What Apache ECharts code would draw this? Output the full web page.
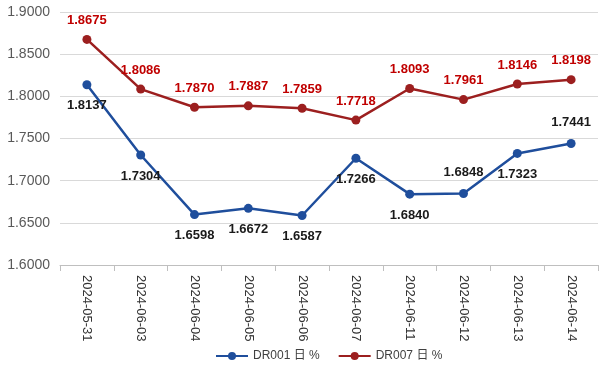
<!DOCTYPE html>
<html><head><meta charset="utf-8">
<script src="https://cdn.jsdelivr.net/npm/echarts@6/dist/echarts.min.js"></script>
<style>html,body{margin:0;padding:0;background:#fff}#c{width:608px;height:373px}</style>
</head><body><div id="c"></div>
<script>
const categories = ['2024-05-31','2024-06-03','2024-06-04','2024-06-05','2024-06-06','2024-06-07','2024-06-11','2024-06-12','2024-06-13','2024-06-14'];
const dr001 = [1.8137,1.7304,1.6598,1.6672,1.6587,1.7266,1.6840,1.6848,1.7323,1.7441];
const dr007 = [1.8675,1.8086,1.7870,1.7887,1.7859,1.7718,1.8093,1.7961,1.8146,1.8198];
const seriesNames = ['DR001 日 %','DR007 日 %'];
const dr001LabelPos = ['bottom','bottom','bottom','bottom','bottom','bottom','bottom','top','bottom','top'];

const font = '"Liberation Sans", "Noto Sans CJK SC", sans-serif';
const chart = echarts.init(document.getElementById('c'), null, {renderer:'canvas'});
chart.setOption({
  animation:false,
  textStyle:{fontFamily:font},
  grid:{left:60,right:10,top:12,bottom:108},
  legend:{bottom:6,left:210,itemWidth:32,itemHeight:10,itemGap:18,
    textStyle:{fontSize:12,color:'#404040',fontFamily:font},
    data:seriesNames},
  xAxis:{type:'category',data:categories,boundaryGap:true,
    axisLine:{lineStyle:{color:'#bfbfbf'}},
    axisTick:{show:true,length:6,lineStyle:{color:'#bfbfbf'}},
    axisLabel:{rotate:-90,fontSize:13,color:'#333333',margin:10,fontFamily:font}},
  yAxis:{type:'value',min:1.6,max:1.9,interval:0.05,
    axisLine:{show:false},axisTick:{show:false},
    splitLine:{lineStyle:{color:'#d9d9d9',width:1}},
    axisLabel:{fontSize:14,color:'#595959',margin:10,fontFamily:font,formatter:v=>v.toFixed(4)}},
  series:[
    {name:seriesNames[0],type:'line',data:dr001.map((v,i)=>({value:v,label:{position:dr001LabelPos[i]}})),
     symbol:'circle',symbolSize:9,
     lineStyle:{color:'#1f4e9c',width:2.5},itemStyle:{color:'#1f4e9c'},
     label:{show:true,fontSize:13,fontWeight:'bold',color:'#1a1a1a',distance:10,formatter:p=>p.value.toFixed(4)}},
    {name:seriesNames[1],type:'line',data:dr007,
     symbol:'circle',symbolSize:9,
     lineStyle:{color:'#9c1f1f',width:2.5},itemStyle:{color:'#9c1f1f'},
     label:{show:true,position:'top',fontSize:13,fontWeight:'bold',color:'#c00000',distance:8,formatter:p=>p.value.toFixed(4)}}
  ]
});
</script></body></html>
